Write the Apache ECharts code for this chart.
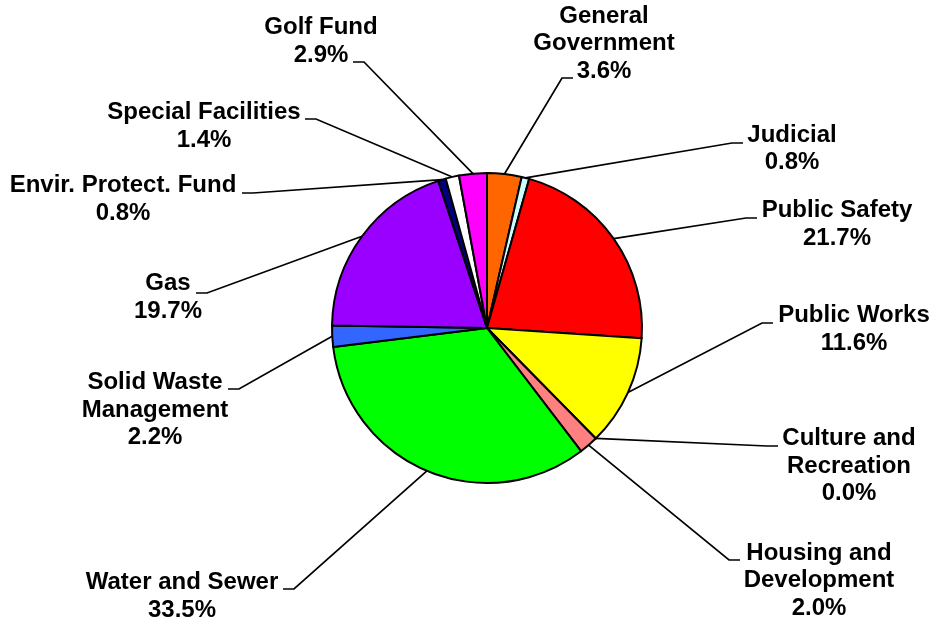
<!DOCTYPE html>
<html>
<head>
<meta charset="utf-8">
<script src="https://cdn.jsdelivr.net/npm/echarts@6/dist/echarts.min.js"></script>
<style>html,body{margin:0;padding:0;background:#fff;}#c{width:933px;height:622px;}</style>
</head>
<body>
<div id="c"></div>
<script>
// ---- data ----
const categories = ['General\nGovernment', 'Judicial', 'Public Safety', 'Public Works',
  'Culture and\nRecreation', 'Housing and\nDevelopment', 'Water and Sewer',
  'Solid Waste\nManagement', 'Gas', 'Envir. Protect. Fund', 'Special Facilities', 'Golf Fund'];
const values = [3.6, 0.8, 21.7, 11.6, 0.0, 2.0, 33.5, 2.2, 19.7, 0.8, 1.4, 2.9];
const colors = ['#FF6600', '#CCFFFF', '#FF0000', '#FFFF00', '#99CCFF', '#FF8080',
  '#00FF00', '#3366FF', '#9900FF', '#000080', '#FFFFFF', '#FF00FF'];

// ---- label layout (text block centres, leader-line attach points) ----
const labelCenters = [[604, 43.5], [792, 149], [837, 224.5], [854, 329.5], [849, 466], [819, 580.5],
  [182, 596.5], [155, 410], [168, 297.5], [123, 199.5], [204, 126.5], [321, 41.5]];
const leaderEnds = [[573, 78], [743, 143], [757, 218], [773, 323], [778, 446], [740, 560],
  [283, 589], [228, 389], [196, 293], [242, 193], [305, 119], [353, 62]];

const chart = echarts.init(document.getElementById('c'));
const data = categories.map((n, i) => ({ name: n, value: values[i], itemStyle: { color: colors[i] } }));

chart.setOption({
  animation: false,
  series: [{
    type: 'pie',
    center: [487, 328],
    radius: 155,
    startAngle: 90,
    clockwise: true,
    minAngle: 0,
    avoidLabelOverlap: false,
    data: data,
    itemStyle: { borderColor: '#000', borderWidth: 2 },
    label: {
      show: true,
      position: 'outside',
      formatter: p => p.name + '\n' + p.value.toFixed(1) + '%',
      fontFamily: 'Liberation Sans, Arial, sans-serif',
      fontWeight: 'bold',
      fontSize: 24,
      lineHeight: 27.6,
      color: '#000',
      align: 'center'
    },
    labelLine: { show: true, lineStyle: { color: '#000', width: 1.7 } },
    labelLayout: function (params) {
      const i = params.dataIndex;
      const c = labelCenters[i];
      const e = leaderEnds[i];
      const isLeft = e[0] < 487;
      const turn = [e[0] + (isLeft ? 11 : -11), e[1]];
      const start = params.labelLinePoints ? params.labelLinePoints[0].slice() : turn;
      return {
        x: c[0], y: c[1], align: 'center', verticalAlign: 'middle',
        labelLinePoints: [start, turn, e.slice()]
      };
    }
  }]
});
</script>
</body>
</html>
